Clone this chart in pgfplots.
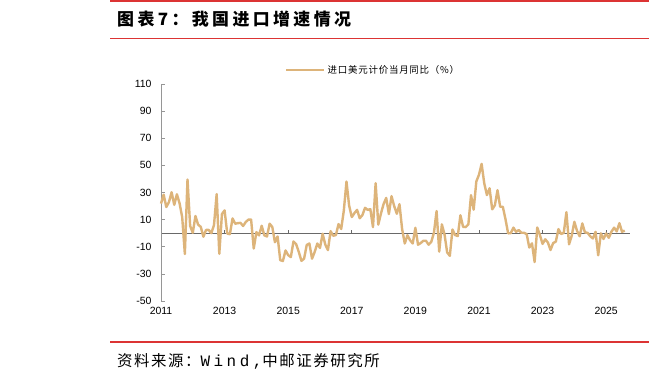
\documentclass[border=0pt]{standalone}
\usepackage{pgfplots}
\usepackage{pgfplotstable}
\pgfplotsset{compat=1.18}
\usepackage{fontspec}
\setmainfont{Liberation Sans}
\newfontfamily\cjk{Noto Sans CJK SC}
\newfontfamily\cjktitle[LetterSpace=20]{Noto Sans CJK SC}
\newfontfamily\cjksrc[LetterSpace=10]{Noto Sans CJK SC}
\newfontfamily\cjkleg[LetterSpace=8]{Noto Sans CJK SC}
\newfontfamily\monosrc[LetterSpace=22]{Liberation Mono}
\definecolor{tanline}{RGB}{221,180,122}
\definecolor{redline}{RGB}{220,52,52}
\definecolor{axgray}{RGB}{105,105,105}
\definecolor{yaxgray}{RGB}{150,150,150}

\pgfplotstableread{
x y
0 21.8
1 28.4
2 19.3
3 22.9
4 30.2
5 20.9
6 28.7
7 22.1
8 11.8
9 -15.3
10 39.6
11 5.3
12 0.3
13 12.7
14 6.3
15 4.7
16 -2.6
17 2.4
18 2.4
19 0.0
20 6.0
21 28.8
22 -15.2
23 14.1
24 16.8
25 -0.3
26 -0.7
27 10.9
28 7.0
29 7.4
30 7.6
31 5.3
32 8.3
33 10.0
34 10.1
35 -11.3
36 0.8
37 -1.6
38 5.5
39 -1.6
40 -2.4
41 7.0
42 4.6
43 -6.7
44 -2.4
45 -19.9
46 -20.5
47 -12.7
48 -16.2
49 -17.6
50 -6.1
51 -8.1
52 -13.8
53 -20.4
54 -18.8
55 -8.7
56 -7.6
57 -18.8
58 -13.8
59 -7.6
60 -10.9
61 -0.4
62 -8.4
63 -12.5
64 1.5
65 -1.9
66 -1.4
67 6.7
68 3.1
69 16.7
70 38.1
71 20.3
72 11.9
73 14.8
74 17.2
75 11.0
76 13.3
77 18.7
78 17.2
79 17.7
80 4.5
81 36.9
82 6.3
83 14.4
84 21.5
85 26.0
86 14.1
87 27.3
88 20.0
89 14.3
90 21.4
91 3.0
92 -7.6
93 -1.5
94 -5.2
95 -7.6
96 4.0
97 -8.5
98 -7.3
99 -5.6
100 -5.6
101 -8.5
102 -6.4
103 0.3
104 16.3
105 -13.6
106 6.5
107 -0.9
108 -14.2
109 -16.7
110 2.7
111 -1.4
112 -2.1
113 13.2
114 4.7
115 4.5
116 6.5
117 28.0
118 17.3
119 38.1
120 43.1
121 51.1
122 36.7
123 28.1
124 33.1
125 17.6
126 20.6
127 31.7
128 19.5
129 19.5
130 10.4
131 -0.1
132 0.0
133 4.1
134 1.0
135 2.3
136 0.3
137 0.3
138 -0.7
139 -10.6
140 -7.5
141 -21.3
142 4.2
143 -1.4
144 -7.9
145 -4.5
146 -6.8
147 -12.4
148 -7.3
149 -6.2
150 3.0
151 -0.6
152 0.2
153 15.5
154 -8.2
155 -1.9
156 8.4
157 1.8
158 -2.3
159 7.2
160 0.5
161 0.3
162 -2.3
163 -3.9
164 1.0
165 -16.3
166 -0.1
167 -4.3
168 -0.2
169 -3.4
170 1.1
171 4.1
172 1.3
173 7.4
174 1.0
175 1.9
}\importdata

\begin{document}
\begin{tikzpicture}
\useasboundingbox (0,0) rectangle (649bp,382bp);
\fill[white] (0,0) rectangle (649bp,382bp);
% frame lines
\draw[redline, line width=1.4bp] (110bp,381bp) -- (649bp,381bp);
\draw[redline, line width=1.4bp] (110bp,343.5bp) -- (649bp,343.5bp);
\draw[redline, line width=1.4bp] (110bp,40bp) -- (649bp,40bp);
% title and source
\node[anchor=west, inner sep=0pt] at (117bp,362.5bp) {\cjktitle\bfseries\fontsize{17}{20}\selectfont 图表7：我国进口增速情况};
\node[anchor=west, inner sep=0pt] at (117bp,21bp) {\cjksrc\fontsize{15.5}{18}\selectfont 资料来源：{\monosrc\fontsize{16}{18}\selectfont Wind,}中邮证券研究所};

% main axis with data
\begin{axis}[
  at={(161bp,81bp)}, anchor=south west,
  scale only axis, width=469bp, height=217bp,
  xmin=0, xmax=177, ymin=-50, ymax=110,
  axis x line=middle, axis y line=left,
  x axis line style={-, draw=axgray, line width=0.9bp},
  y axis line style={-, draw=yaxgray, line width=0.7bp},
  xtick={0,24,48,72,96,120,144,168},
  x tick label style={opacity=0},
  xtick align=inside,
  x tick style={draw=axgray, line width=0.9bp},
  major tick length=3.5bp,
  ytick={-50,-30,-10,10,30,50,70,90,110},
  ytick align=inside,
  y tick style={draw=yaxgray, line width=0.7bp},
  yticklabel style={font=\fontsize{10.5}{12}\selectfont, xshift=-6bp},
  /pgf/number format/assume math mode=true,
  clip=false,
  legend style={at={(0.452,1.0645)}, anchor=center, draw=none, fill=none,
    font=\cjkleg\fontsize{9.5}{11}\selectfont, inner sep=0pt,
    /tikz/every even column/.append style={column sep=4bp}},
  legend image code/.code={\draw[#1, line width=2.8bp] (0,0) -- (38bp,0);},
]
\addplot[tanline, line width=2.4bp, line join=round] table[x=x, y=y] {\importdata};
\addlegendentry{进口美元计价当月同比（\%）}
\end{axis}

% second axis for bottom labels
\begin{axis}[
  at={(161bp,81bp)}, anchor=south west,
  scale only axis, width=469bp, height=217bp,
  xmin=0, xmax=177, ymin=-50, ymax=110,
  axis x line=bottom, axis y line=none,
  x axis line style={draw=none, -},
  xtick={0,24,48,72,96,120,144,168},
  xticklabels={2011,2013,2015,2017,2019,2021,2023,2025},
  major tick length=0pt,
  ytick=\empty,
  xticklabel style={font=\fontsize{10.5}{12}\selectfont, yshift=-3bp},
]
\addplot[draw=none] coordinates {(0,0)};
\end{axis}
\end{tikzpicture}
\end{document}
